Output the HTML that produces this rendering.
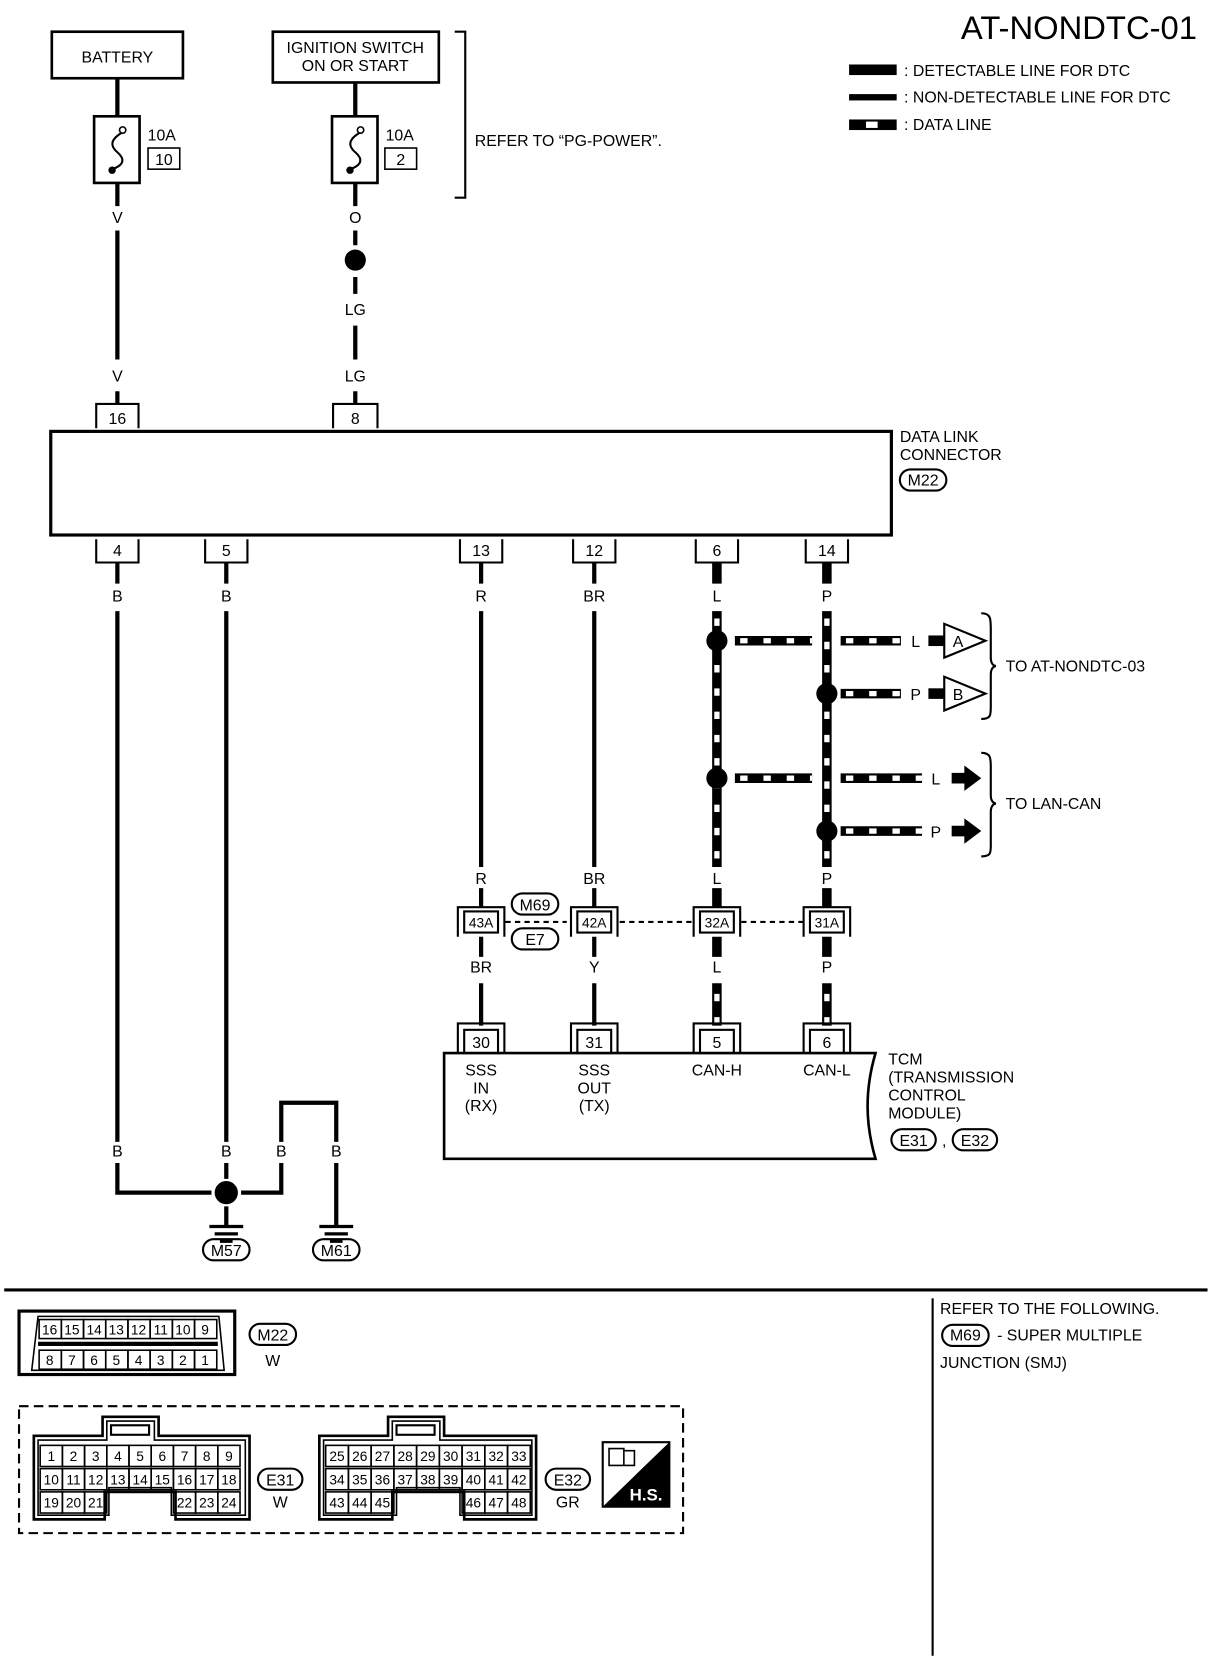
<!DOCTYPE html>
<html><head><meta charset="utf-8"><style>
html,body{margin:0;padding:0;background:#fff}
svg{display:block}
text{font-family:"Liberation Sans Narrow","Liberation Sans",sans-serif;fill:#000}
</style></head><body>
<svg width="1216" height="1660" viewBox="0 0 1150 1570" preserveAspectRatio="none" xmlns="http://www.w3.org/2000/svg">
<g font-size="15" text-anchor="middle">
<text x="1132" y="37" font-size="31" text-anchor="end" font-family="Liberation Sans">AT-NONDTC-01</text>
<rect x="803" y="61" width="45" height="10"/>
<rect x="803" y="89" width="45" height="6"/>
<rect x="803" y="113" width="45" height="10"/><rect x="819" y="115" width="11" height="6" fill="#fff"/>
<g text-anchor="start"><text x="855" y="72">: DETECTABLE LINE FOR DTC</text><text x="855" y="97">: NON-DETECTABLE LINE FOR DTC</text><text x="855" y="123">: DATA LINE</text></g>

<rect x="49" y="30" width="124" height="44" fill="none" stroke="#000" stroke-width="2.5"/>
<text x="111" y="59">BATTERY</text>
<rect x="258" y="30" width="157" height="48" fill="none" stroke="#000" stroke-width="2.5"/>
<text x="336" y="50">IGNITION SWITCH</text><text x="336" y="67">ON OR START</text>
<path d="M430 30H440V187H430" fill="none" stroke="#000" stroke-width="2"/>
<text x="449" y="138" text-anchor="start">REFER TO “PG-POWER”.</text>

<g fill="none" stroke="#000" stroke-width="4">
<path d="M111 74V110M336 78V110"/>
<path d="M111 173V195M336 173V195"/>
<path d="M111 218V340M111 370V382"/>
<path d="M336 218V232M336 262V278M336 308V340M336 370V382"/>
</g>
<g fill="none" stroke="#000" stroke-width="2.5">
<rect x="89" y="110" width="43" height="63"/><rect x="314" y="110" width="43" height="63"/>
<rect x="140" y="140" width="30" height="20" stroke-width="1.5"/><rect x="364" y="140" width="30" height="20" stroke-width="1.5"/>
<path d="M116 125C104 132 104 138 111 144C118 150 118 156 106 160" stroke-width="2"/>
<path d="M341 125C329 132 329 138 336 144C343 150 343 156 331 160" stroke-width="2"/>
</g>
<circle cx="116" cy="123" r="3" fill="#fff" stroke="#000" stroke-width="1.5"/><circle cx="106" cy="161" r="3.5"/>
<circle cx="341" cy="123" r="3" fill="#fff" stroke="#000" stroke-width="1.5"/><circle cx="331" cy="161" r="3.5"/>
<text x="153" y="133">10A</text><text x="155" y="156">10</text>
<text x="378" y="133">10A</text><text x="379" y="156">2</text>
<circle cx="336" cy="246" r="10"/>
<text x="111" y="211">V</text><text x="336" y="211">O</text><text x="336" y="298">LG</text>
<text x="111" y="361">V</text><text x="336" y="361">LG</text>

<path d="M91 405V382H131V405M315 405V382H357V405" fill="none" stroke="#000" stroke-width="2"/>
<text x="111" y="401">16</text><text x="336" y="401">8</text>
<rect x="48" y="408" width="795" height="98" fill="none" stroke="#000" stroke-width="3"/>
<g text-anchor="start"><text x="851" y="418">DATA LINK</text><text x="851" y="435">CONNECTOR</text></g>
<rect x="851" y="444" width="44" height="20" rx="10" fill="none" stroke="#000" stroke-width="2"/><text x="873" y="459">M22</text>

<path d="M91 510V532H131V510M194 510V532H234V510M435 510V532H475V510M542 510V532H582V510M658 510V532H698V510M762 510V532H802V510" fill="none" stroke="#000" stroke-width="2"/>
<text x="111" y="526">4</text><text x="214" y="526">5</text><text x="455" y="526">13</text><text x="562" y="526">12</text><text x="678" y="526">6</text><text x="782" y="526">14</text>
<text x="111" y="569">B</text><text x="214" y="569">B</text><text x="455" y="569">R</text><text x="562" y="569">BR</text><text x="678" y="569">L</text><text x="782" y="569">P</text>

<g fill="none" stroke="#000" stroke-width="4">
<path d="M111 532V552M214 532V552M455 532V552M562 532V552"/>
<path d="M111 578V1080M214 578V1080M455 578V820M562 578V820"/>
<path d="M111 1100V1128H200M228 1128H266V1100M214 1100V1115M266 1080V1043H318V1080M318 1100V1160M214 1141V1160"/>
<path d="M455 840V858M562 840V858M455 886V905M562 886V905M455 930V970M562 930V970"/>
</g>
<circle cx="214" cy="1128" r="11"/>
<g stroke="#000" stroke-width="3"><path d="M198 1160H230M203 1167H225M208 1174H220"/><path d="M302 1160H334M307 1167H329M312 1174H324"/></g>
<text x="111" y="1094">B</text><text x="214" y="1094">B</text><text x="266" y="1094">B</text><text x="318" y="1094">B</text>
<rect x="192" y="1172" width="44" height="20" rx="10" fill="none" stroke="#000" stroke-width="2"/><text x="214" y="1188">M57</text>
<rect x="296" y="1172" width="44" height="20" rx="10" fill="none" stroke="#000" stroke-width="2"/><text x="318" y="1188">M61</text>

<g fill="none">
<g stroke="#000" stroke-width="9">
<path d="M678 532V552M782 532V552M678 578V820M782 578V820M678 840V858M782 840V858M678 886V905M782 886V905M678 930V970M782 930V970"/>
<path d="M695 606H768M795 606H852M795 656H852M695 736H768M795 736H872M795 786H872"/>
</g>
<g stroke="#fff" stroke-width="5" stroke-dasharray="7 15">
<path d="M678 585V820M782 585V820M678 940V970M782 940V970"/>
<path d="M700 606H768M800 606H852M800 656H852M700 736H768M800 736H872M800 786H872"/>
</g>
</g>
<circle cx="678" cy="606" r="10"/><circle cx="782" cy="656" r="10"/><circle cx="678" cy="736" r="10"/><circle cx="782" cy="786" r="10"/>
<text x="866" y="612">L</text><text x="866" y="662">P</text><text x="885" y="742">L</text><text x="885" y="792">P</text>
<rect x="878" y="601" width="16" height="10"/><rect x="878" y="651" width="16" height="10"/>
<path d="M893 590L932 606L893 622Z M893 640L932 656L893 672Z" fill="#fff" stroke="#000" stroke-width="2"/>
<text x="906" y="612">A</text><text x="906" y="662">B</text>
<path d="M900 731H912V724L928 736L912 748V741H900Z M900 781H912V774L928 786L912 798V791H900Z"/>
<path d="M928 580C938 580 937 586 937 600V622C937 628 940 630 942 630C940 630 937 632 937 638V664C937 676 938 680 928 680" fill="none" stroke="#000" stroke-width="2"/>
<path d="M928 712C938 712 937 718 937 730V752C937 758 940 760 942 760C940 760 937 762 937 768V796C937 806 938 810 928 810" fill="none" stroke="#000" stroke-width="2"/>
<g text-anchor="start"><text x="951" y="635">TO AT-NONDTC-03</text><text x="951" y="765">TO LAN-CAN</text></g>
<text x="455" y="836">R</text><text x="562" y="836">BR</text><text x="678" y="836">L</text><text x="782" y="836">P</text>

<path d="M478 872H536M586 872H655M701 872H759" stroke="#000" stroke-width="2" stroke-dasharray="5 4"/>
<g fill="none" stroke="#000" stroke-width="2">
<path d="M433 886V858H477V886M540 886V858H584V886M656 886V858H700V886M760 886V858H804V886"/>
<rect x="439" y="862" width="32" height="20" fill="#fff"/><rect x="546" y="862" width="32" height="20" fill="#fff"/><rect x="662" y="862" width="32" height="20" fill="#fff"/><rect x="766" y="862" width="32" height="20" fill="#fff"/>
</g>
<g font-size="13"><text x="455" y="877">43A</text><text x="562" y="877">42A</text><text x="678" y="877">32A</text><text x="782" y="877">31A</text></g>
<rect x="484" y="845" width="44" height="20" rx="10" fill="none" stroke="#000" stroke-width="2"/><text x="506" y="861">M69</text>
<rect x="484" y="878" width="44" height="20" rx="10" fill="none" stroke="#000" stroke-width="2"/><text x="506" y="894">E7</text>
<text x="455" y="920">BR</text><text x="562" y="920">Y</text><text x="678" y="920">L</text><text x="782" y="920">P</text>

<g fill="none" stroke="#000" stroke-width="2">
<path d="M433 996V968H477V996M540 996V968H584V996M656 996V968H700V996M760 996V968H804V996"/>
<rect x="439" y="974" width="32" height="22" fill="#fff"/><rect x="546" y="974" width="32" height="22" fill="#fff"/><rect x="662" y="974" width="32" height="22" fill="#fff"/><rect x="766" y="974" width="32" height="22" fill="#fff"/>
</g>
<text x="455" y="991">30</text><text x="562" y="991">31</text><text x="678" y="991">5</text><text x="782" y="991">6</text>
<path d="M420 1096V996H828C818 1030 818 1062 828 1096Z" fill="none" stroke="#000" stroke-width="2.5"/>
<text x="455" y="1017">SSS</text><text x="455" y="1034">IN</text><text x="455" y="1051">(RX)</text>
<text x="562" y="1017">SSS</text><text x="562" y="1034">OUT</text><text x="562" y="1051">(TX)</text>
<text x="678" y="1017">CAN-H</text><text x="782" y="1017">CAN-L</text>
<g text-anchor="start"><text x="840" y="1007">TCM</text><text x="840" y="1024">(TRANSMISSION</text><text x="840" y="1041">CONTROL</text><text x="840" y="1058">MODULE)</text></g>
<rect x="843" y="1068" width="42" height="20" rx="10" fill="none" stroke="#000" stroke-width="2"/><text x="864" y="1084">E31</text>
<text x="893" y="1084">,</text>
<rect x="901" y="1068" width="42" height="20" rx="10" fill="none" stroke="#000" stroke-width="2"/><text x="922" y="1084">E32</text>

<path d="M4 1220H1142" stroke="#000" stroke-width="3"/>
<path d="M882 1228V1566" stroke="#000" stroke-width="2"/>
<g text-anchor="start"><text x="889" y="1243">REFER TO THE FOLLOWING.</text><text x="943" y="1268">- SUPER MULTIPLE</text><text x="889" y="1294">JUNCTION (SMJ)</text></g>
<rect x="891" y="1253" width="44" height="20" rx="10" fill="none" stroke="#000" stroke-width="2"/><text x="913" y="1268">M69</text>

<g fill="none" stroke="#000" stroke-width="2">
<rect x="18" y="1240" width="204" height="60" stroke-width="3"/>
<path d="M30 1296L36 1245H207L212 1296Z" stroke-width="1.5"/>
</g>
<rect x="36" y="1269" width="170" height="4"/>
<g fill="none" stroke="#000" stroke-width="1.5">
<rect x="37" y="1248" width="21" height="18"/><rect x="58" y="1248" width="21" height="18"/><rect x="79" y="1248" width="21" height="18"/><rect x="100" y="1248" width="21" height="18"/><rect x="121" y="1248" width="21" height="18"/><rect x="142" y="1248" width="21" height="18"/><rect x="163" y="1248" width="21" height="18"/><rect x="184" y="1248" width="21" height="18"/>
<rect x="37" y="1277" width="21" height="18"/><rect x="58" y="1277" width="21" height="18"/><rect x="79" y="1277" width="21" height="18"/><rect x="100" y="1277" width="21" height="18"/><rect x="121" y="1277" width="21" height="18"/><rect x="142" y="1277" width="21" height="18"/><rect x="163" y="1277" width="21" height="18"/><rect x="184" y="1277" width="21" height="18"/>
</g>
<g font-size="13">
<text x="47" y="1262">16</text><text x="68" y="1262">15</text><text x="89" y="1262">14</text><text x="110" y="1262">13</text><text x="131" y="1262">12</text><text x="152" y="1262">11</text><text x="173" y="1262">10</text><text x="194" y="1262">9</text>
<text x="47" y="1291">8</text><text x="68" y="1291">7</text><text x="89" y="1291">6</text><text x="110" y="1291">5</text><text x="131" y="1291">4</text><text x="152" y="1291">3</text><text x="173" y="1291">2</text><text x="194" y="1291">1</text>
</g>
<rect x="236" y="1252" width="44" height="20" rx="10" fill="none" stroke="#000" stroke-width="2"/><text x="258" y="1268">M22</text>
<text x="258" y="1292">W</text>

<rect x="18" y="1330" width="628" height="120" fill="none" stroke="#000" stroke-width="2" stroke-dasharray="9 5"/>
<g fill="none" stroke="#000" stroke-width="2.5">
<path d="M32 1358H97V1340H150V1358H236V1437H166V1411H99V1437H32Z"/>
<path d="M36 1362H101V1344H146V1362H232V1433H162V1407H103V1433H36Z" stroke-width="1.5"/>
<rect x="105" y="1348" width="36" height="9" stroke-width="2"/>
<path d="M302 1358H367V1340H420V1358H507V1437H439V1411H371V1437H302Z"/>
<path d="M306 1362H371V1344H416V1362H503V1433H435V1407H375V1433H306Z" stroke-width="1.5"/>
<rect x="375" y="1348" width="36" height="9" stroke-width="2"/>
</g>
<g fill="none" stroke="#000" stroke-width="1.5">
<rect x="38" y="1367" width="21" height="20"/><rect x="59" y="1367" width="21" height="20"/><rect x="80" y="1367" width="21" height="20"/><rect x="101" y="1367" width="21" height="20"/><rect x="122" y="1367" width="21" height="20"/><rect x="143" y="1367" width="21" height="20"/><rect x="164" y="1367" width="21" height="20"/><rect x="185" y="1367" width="21" height="20"/><rect x="206" y="1367" width="21" height="20"/>
<rect x="38" y="1389" width="21" height="20"/><rect x="59" y="1389" width="21" height="20"/><rect x="80" y="1389" width="21" height="20"/><rect x="101" y="1389" width="21" height="20"/><rect x="122" y="1389" width="21" height="20"/><rect x="143" y="1389" width="21" height="20"/><rect x="164" y="1389" width="21" height="20"/><rect x="185" y="1389" width="21" height="20"/><rect x="206" y="1389" width="21" height="20"/>
<rect x="38" y="1411" width="21" height="20"/><rect x="59" y="1411" width="21" height="20"/><rect x="80" y="1411" width="21" height="20"/><rect x="164" y="1411" width="21" height="20"/><rect x="185" y="1411" width="21" height="20"/><rect x="206" y="1411" width="21" height="20"/>
<rect x="308" y="1367" width="21.5" height="20"/><rect x="329.5" y="1367" width="21.5" height="20"/><rect x="351" y="1367" width="21.5" height="20"/><rect x="372.5" y="1367" width="21.5" height="20"/><rect x="394" y="1367" width="21.5" height="20"/><rect x="415.5" y="1367" width="21.5" height="20"/><rect x="437" y="1367" width="21.5" height="20"/><rect x="458.5" y="1367" width="21.5" height="20"/><rect x="480" y="1367" width="21.5" height="20"/>
<rect x="308" y="1389" width="21.5" height="20"/><rect x="329.5" y="1389" width="21.5" height="20"/><rect x="351" y="1389" width="21.5" height="20"/><rect x="372.5" y="1389" width="21.5" height="20"/><rect x="394" y="1389" width="21.5" height="20"/><rect x="415.5" y="1389" width="21.5" height="20"/><rect x="437" y="1389" width="21.5" height="20"/><rect x="458.5" y="1389" width="21.5" height="20"/><rect x="480" y="1389" width="21.5" height="20"/>
<rect x="308" y="1411" width="21.5" height="20"/><rect x="329.5" y="1411" width="21.5" height="20"/><rect x="351" y="1411" width="21.5" height="20"/><rect x="437" y="1411" width="21.5" height="20"/><rect x="458.5" y="1411" width="21.5" height="20"/><rect x="480" y="1411" width="21.5" height="20"/>
</g>
<g font-size="13">
<text x="48.5" y="1382">1</text><text x="69.5" y="1382">2</text><text x="90.5" y="1382">3</text><text x="111.5" y="1382">4</text><text x="132.5" y="1382">5</text><text x="153.5" y="1382">6</text><text x="174.5" y="1382">7</text><text x="195.5" y="1382">8</text><text x="216.5" y="1382">9</text>
<text x="48.5" y="1404">10</text><text x="69.5" y="1404">11</text><text x="90.5" y="1404">12</text><text x="111.5" y="1404">13</text><text x="132.5" y="1404">14</text><text x="153.5" y="1404">15</text><text x="174.5" y="1404">16</text><text x="195.5" y="1404">17</text><text x="216.5" y="1404">18</text>
<text x="48.5" y="1426">19</text><text x="69.5" y="1426">20</text><text x="90.5" y="1426">21</text><text x="174.5" y="1426">22</text><text x="195.5" y="1426">23</text><text x="216.5" y="1426">24</text>
<text x="318.7" y="1382">25</text><text x="340.2" y="1382">26</text><text x="361.7" y="1382">27</text><text x="383.2" y="1382">28</text><text x="404.7" y="1382">29</text><text x="426.2" y="1382">30</text><text x="447.7" y="1382">31</text><text x="469.2" y="1382">32</text><text x="490.7" y="1382">33</text>
<text x="318.7" y="1404">34</text><text x="340.2" y="1404">35</text><text x="361.7" y="1404">36</text><text x="383.2" y="1404">37</text><text x="404.7" y="1404">38</text><text x="426.2" y="1404">39</text><text x="447.7" y="1404">40</text><text x="469.2" y="1404">41</text><text x="490.7" y="1404">42</text>
<text x="318.7" y="1426">43</text><text x="340.2" y="1426">44</text><text x="361.7" y="1426">45</text><text x="447.7" y="1426">46</text><text x="469.2" y="1426">47</text><text x="490.7" y="1426">48</text>
</g>
<rect x="244" y="1389" width="42" height="20" rx="10" fill="none" stroke="#000" stroke-width="2"/><text x="265" y="1405">E31</text>
<text x="265" y="1426">W</text>
<rect x="516" y="1389" width="42" height="20" rx="10" fill="none" stroke="#000" stroke-width="2"/><text x="537" y="1405">E32</text>
<text x="537" y="1426">GR</text>
<rect x="570" y="1364" width="63" height="61" fill="#fff" stroke="#000" stroke-width="2"/>
<path d="M633 1364V1425H570Z"/>
<path d="M576 1370h14v16h-14zM590 1372h10v14h-10z" fill="none" stroke="#000" stroke-width="1.5"/>
<text x="611" y="1419" font-size="16" style="fill:#fff" font-weight="bold">H.S.</text>
</g>
</svg>
</body></html>
